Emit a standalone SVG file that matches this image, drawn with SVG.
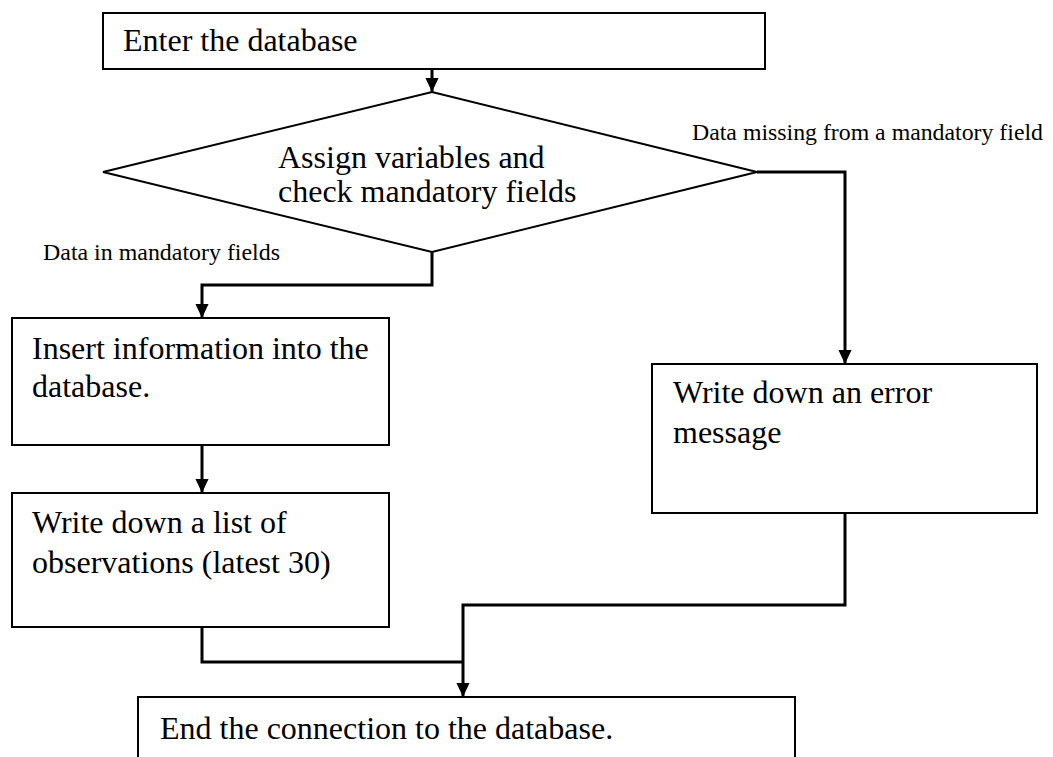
<svg xmlns="http://www.w3.org/2000/svg" width="1053" height="757" viewBox="0 0 1053 757">
<style>
.box{fill:#fff;stroke:#000;stroke-width:2}
.t{font-family:"Liberation Serif","Times New Roman",serif;font-size:32px;fill:#000}
.lbl{font-family:"Liberation Serif","Times New Roman",serif;font-size:23px;fill:#000}
.c{fill:none;stroke:#000;stroke-width:3}
</style>
<defs>
<marker id="ah" markerWidth="14" markerHeight="15" refX="15" refY="7" orient="auto" markerUnits="userSpaceOnUse" viewBox="0 0 15 14">
<path d="M0,0 L15,7 L0,14 Z" fill="#000"/>
</marker>
</defs>
<rect width="1053" height="757" fill="#fff"/>
<g id="connectors">
<path class="c" d="M432,69 V92" marker-end="url(#ah)"/>
<path class="c" d="M432,252 V285 H202 V318" marker-end="url(#ah)"/>
<path class="c" d="M757,172 H845 V364" marker-end="url(#ah)"/>
<path class="c" d="M202,445 V493" marker-end="url(#ah)"/>
<path class="c" d="M202,627 V662 H463"/>
<path class="c" d="M845,513 V605 H463 V697" marker-end="url(#ah)"/>
</g>
<g id="start">
<rect class="box" x="103" y="13" width="662" height="56"/>
<text class="t" x="123" y="51">Enter the database</text>
</g>
<g id="decision">
<polygon class="box" points="432,92 757,172 432,252 103,172"/>
<text class="t" x="278" y="168">Assign variables and</text>
<text class="t" x="278" y="202">check mandatory fields</text>
</g>
<g id="lbl-missing">
<text class="lbl" x="692" y="140" textLength="351" lengthAdjust="spacingAndGlyphs">Data missing from a mandatory field</text>
</g>
<g id="lbl-ok">
<text class="lbl" x="43" y="260" textLength="237" lengthAdjust="spacingAndGlyphs">Data in mandatory fields</text>
</g>
<g id="insert">
<rect class="box" x="12" y="318" width="377" height="127"/>
<text class="t" x="32" y="359">Insert information into the</text>
<text class="t" x="32" y="397">database.</text>
</g>
<g id="list">
<rect class="box" x="12" y="493" width="377" height="134"/>
<text class="t" x="32" y="533">Write down a list of</text>
<text class="t" x="32" y="573">observations (latest 30)</text>
</g>
<g id="error">
<rect class="box" x="652" y="364" width="385" height="149"/>
<text class="t" x="673" y="403">Write down an error</text>
<text class="t" x="673" y="443">message</text>
</g>
<g id="end">
<rect class="box" x="138" y="697" width="657" height="80"/>
<text class="t" x="160" y="739">End the connection to the database.</text>
</g>
</svg>
